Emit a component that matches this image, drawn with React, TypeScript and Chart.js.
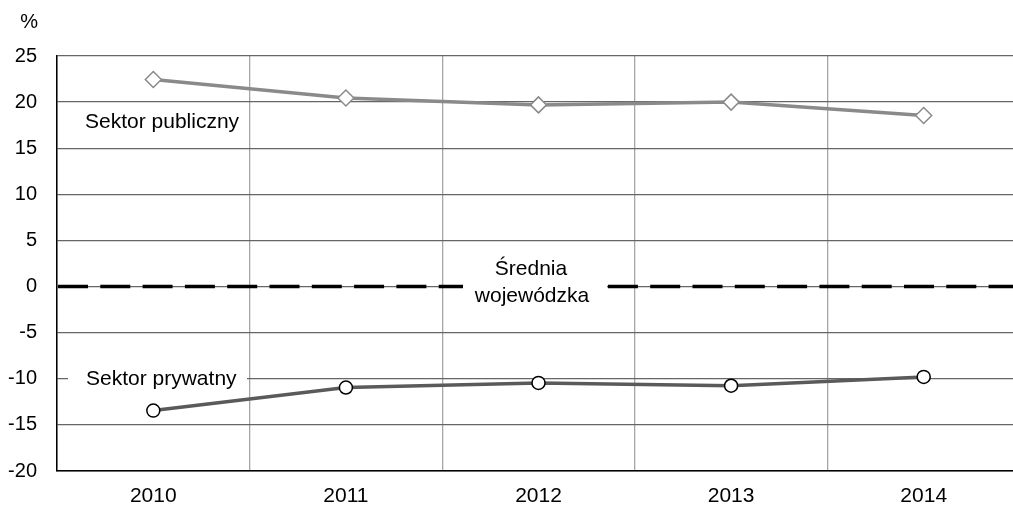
import React, { useEffect, useRef } from "react";
import { Chart, registerables } from "chart.js";

Chart.register(...registerables);

const years = ["2010", "2011", "2012", "2013", "2014"];
const publicSector = [22.45, 20.45, 19.7, 20.0, 18.55];
const privateSector = [-13.45, -10.95, -10.45, -10.75, -9.8];
const yTicks = [25, 20, 15, 10, 5, 0, -5, -10, -15, -20];

const FONT = "'Liberation Sans', Arial, sans-serif";

const overlayPlugin = {
  id: "overlay",
  beforeDatasetsDraw(chart: any) {
    const { ctx, chartArea, scales } = chart;
    const y0 = scales.y.getPixelForValue(0);
    ctx.save();
    // dashed average line
    ctx.strokeStyle = "#000";
    ctx.lineWidth = 3.5;
    ctx.setLineDash([30, 12.3]);
    ctx.beginPath();
    ctx.moveTo(chartArea.left + 1, y0);
    ctx.lineTo(chartArea.right, y0);
    ctx.stroke();
    ctx.setLineDash([]);

    // white boxes
    ctx.fillStyle = "#fff";
    const yPriv = scales.y.getPixelForValue(-10);
    ctx.fillRect(68, yPriv - 3, 179, 6);
    ctx.fillRect(463, y0 - 5, 144, 10);

    ctx.fillStyle = "#000";
    ctx.font = `21px ${FONT}`;
    ctx.textBaseline = "middle";
    ctx.textAlign = "left";
    ctx.fillText("Sektor publiczny", 85, scales.y.getPixelForValue(17.8));
    ctx.fillText("Sektor prywatny", 86, yPriv);
    ctx.textAlign = "center";
    ctx.fillText("Średnia", 531, y0 - 17);
    ctx.fillText("wojewódzka", 532, y0 + 10);

    // axis unit
    ctx.font = `20px ${FONT}`;
    ctx.textAlign = "right";
    ctx.fillText("%", 38, 22);
    ctx.restore();
  },
};

export default function App() {
  const ref = useRef<HTMLCanvasElement>(null);
  useEffect(() => {
    document.body.style.margin = "0";
    const chart = new Chart(ref.current!, {
      type: "line",
      data: {
        labels: years,
        datasets: [
          {
            label: "Sektor publiczny",
            data: publicSector,
            borderColor: "#8a8a8a",
            borderWidth: 3.5,
            pointStyle: "rectRot",
            pointRadius: 8,
            pointBackgroundColor: "#fff",
            pointBorderColor: "#8a8a8a",
            pointBorderWidth: 1.5,
            tension: 0,
          },
          {
            label: "Sektor prywatny",
            data: privateSector,
            borderColor: "#5a5a5a",
            borderWidth: 3.5,
            pointStyle: "circle",
            pointRadius: 6.5,
            pointBackgroundColor: "#fff",
            pointBorderColor: "#000",
            pointBorderWidth: 1.5,
            tension: 0,
          },
        ],
      },
      options: {
        responsive: false,
        animation: false,
        layout: { padding: { top: 56, right: 10, left: 0, bottom: 0 } },
        plugins: { legend: { display: false }, tooltip: { enabled: false } },
        scales: {
          x: {
            offset: true,
            grid: { offset: true, color: "#a6a6a6", lineWidth: 1.3, drawTicks: false },
            border: { color: "#000", width: 1.5 },
            ticks: { color: "#000", font: { family: FONT, size: 21 }, padding: 13 },
            afterFit(scale: any) {
              scale.height = 35;
            },
          },
          y: {
            min: -20,
            max: 25,
            afterBuildTicks(scale: any) {
              scale.ticks = yTicks.map((v) => ({ value: v }));
            },
            grid: { color: "#666", lineWidth: 1.3, drawTicks: false },
            border: { color: "#000", width: 1.5 },
            ticks: { color: "#000", font: { family: FONT, size: 20 }, padding: 20 },
            afterFit(scale: any) {
              scale.width = 57;
            },
          },
        },
      },
      plugins: [overlayPlugin],
    });
    return () => chart.destroy();
  }, []);
  return (
    <div style={{ width: 1013, height: 506, overflow: "hidden", position: "relative" }}>
      <canvas ref={ref} width={1030} height={506} style={{ display: "block" }} />
    </div>
  );
}
